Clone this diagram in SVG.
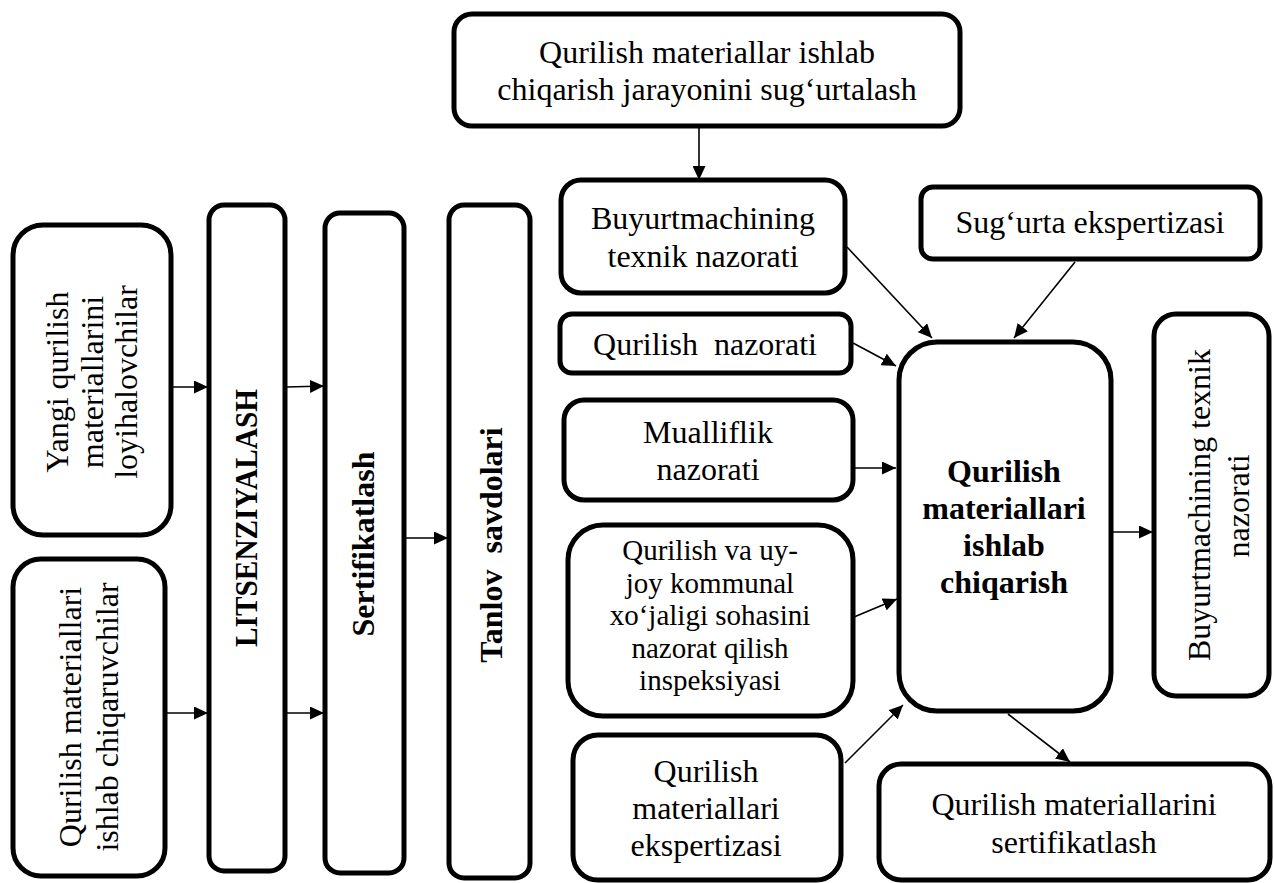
<svg xmlns="http://www.w3.org/2000/svg" width="1274" height="883" viewBox="0 0 1274 883">
<style>
.box{fill:#fff;stroke:#000;stroke-width:5}
.t{font-family:"Liberation Serif","Times New Roman",serif;font-size:32px;fill:#000;text-anchor:middle}
.s{font-size:29px}
.b{font-weight:bold}
.c{stroke:#000;stroke-width:1.6;fill:none;marker-end:url(#ah)}
</style>
<defs>
<marker id="ah" markerUnits="userSpaceOnUse" markerWidth="15" markerHeight="13" refX="14" refY="6.5" orient="auto">
<path d="M0,0 L14,6.5 L0,13 z" fill="#000"/>
</marker>
</defs>
<rect width="1274" height="883" fill="#fff"/>
<g id="connectors">
<line class="c" x1="699" y1="128" x2="699" y2="180"/>
<line class="c" x1="847" y1="247" x2="932" y2="338"/>
<line class="c" x1="1075" y1="262" x2="1014" y2="338"/>
<line class="c" x1="853" y1="343" x2="896" y2="366"/>
<line class="c" x1="855" y1="468" x2="896" y2="468"/>
<line class="c" x1="854" y1="617" x2="897" y2="599"/>
<line class="c" x1="845" y1="763" x2="903" y2="705"/>
<line class="c" x1="1113" y1="532" x2="1153" y2="532"/>
<line class="c" x1="1008" y1="714" x2="1070" y2="762"/>
<line class="c" x1="172" y1="387" x2="208" y2="387"/>
<line class="c" x1="287" y1="387" x2="324" y2="386"/>
<line class="c" x1="405" y1="538" x2="448" y2="538"/>
<line class="c" x1="167" y1="713" x2="208" y2="713"/>
<line class="c" x1="287" y1="713" x2="324" y2="713"/>
</g>
<g id="n-top">
<rect class="box" x="454" y="14" width="506" height="112" rx="18"/>
<text class="t" x="707" y="63">Qurilish materiallar ishlab</text>
<text class="t" x="707" y="100">chiqarish jarayonini sug‘urtalash</text>
</g>
<g id="n-buyurtma">
<rect class="box" x="561" y="180" width="284" height="113" rx="20"/>
<text class="t" x="703" y="229">Buyurtmachining</text>
<text class="t" x="703" y="267">texnik nazorati</text>
</g>
<g id="n-sugurta">
<rect class="box" x="921" y="187" width="339" height="72" rx="12"/>
<text class="t" x="1090" y="233">Sug‘urta ekspertizasi</text>
</g>
<g id="n-qnazorat">
<rect class="box" x="560" y="314" width="291" height="59" rx="12"/>
<text class="t" x="705" y="355" xml:space="preserve">Qurilish  nazorati</text>
</g>
<g id="n-muallif">
<rect class="box" x="564" y="400" width="289" height="100" rx="20"/>
<text class="t" x="708" y="443">Mualliflik</text>
<text class="t" x="708" y="480">nazorati</text>
</g>
<g id="n-inspeksiya">
<rect class="box" x="568" y="525" width="285" height="191" rx="35"/>
<text class="t s" x="710" y="560">Qurilish va uy-</text>
<text class="t s" x="710" y="592.5">joy kommunal</text>
<text class="t s" x="710" y="625">xo‘jaligi sohasini</text>
<text class="t s" x="710" y="657.5">nazorat qilish</text>
<text class="t s" x="710" y="690">inspeksiyasi</text>
</g>
<g id="n-ekspertiza">
<rect class="box" x="573" y="735" width="268" height="145" rx="25"/>
<text class="t" x="706" y="782">Qurilish</text>
<text class="t" x="706" y="819">materiallari</text>
<text class="t" x="706" y="856">ekspertizasi</text>
</g>
<g id="n-central">
<rect class="box" x="899" y="342" width="212" height="369" rx="38"/>
<text class="t b" x="1004" y="482">Qurilish</text>
<text class="t b" x="1004" y="519">materiallari</text>
<text class="t b" x="1004" y="556">ishlab</text>
<text class="t b" x="1004" y="593">chiqarish</text>
</g>
<g id="n-buyurtma-v">
<rect class="box" x="1154" y="314" width="115" height="382" rx="22"/>
<text class="t" transform="translate(1210,505) rotate(-90)">Buyurtmachining texnik</text>
<text class="t" transform="translate(1249,506) rotate(-90)">nazorati</text>
</g>
<g id="n-sertifikat-out">
<rect class="box" x="879" y="764" width="391" height="116" rx="22"/>
<text class="t" x="1074" y="815">Qurilish materiallarini</text>
<text class="t" x="1074" y="853">sertifikatlash</text>
</g>
<g id="n-yangi">
<rect class="box" x="13" y="225" width="158" height="310" rx="30"/>
<text class="t" transform="translate(68,382) rotate(-90)">Yangi qurilish</text>
<text class="t" transform="translate(103,382) rotate(-90)">materiallarini</text>
<text class="t" transform="translate(137,382) rotate(-90)">loyihalovchilar</text>
</g>
<g id="n-ishlab">
<rect class="box" x="13" y="559" width="152" height="317" rx="28"/>
<text class="t" transform="translate(81,717) rotate(-90)">Qurilish materiallari</text>
<text class="t" transform="translate(118,717) rotate(-90)">ishlab chiqaruvchilar</text>
</g>
<g id="n-litsenziya">
<rect class="box" x="209" y="205" width="76" height="666" rx="15"/>
<text class="t b" transform="translate(257,518) rotate(-90)" textLength="258" lengthAdjust="spacingAndGlyphs">LITSENZIYALASH</text>
</g>
<g id="n-sertifikatlash">
<rect class="box" x="325" y="213" width="79" height="660" rx="15"/>
<text class="t b" transform="translate(374,544) rotate(-90)">Sertifikatlash</text>
</g>
<g id="n-tanlov">
<rect class="box" x="449" y="205" width="81" height="673" rx="15"/>
<text class="t b" transform="translate(502,545) rotate(-90)" xml:space="preserve">Tanlov  savdolari</text>
</g>
</svg>
